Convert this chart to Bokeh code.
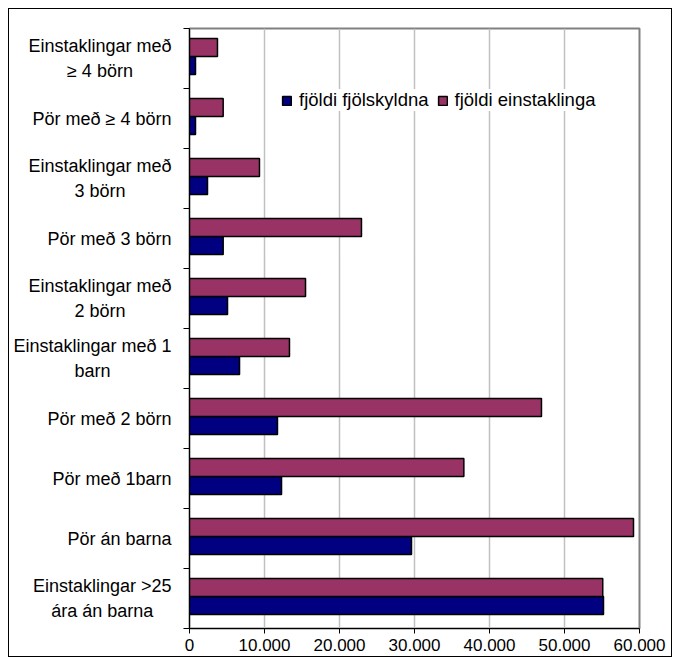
from bokeh.plotting import figure
from bokeh.layouts import row
from bokeh.models import FixedTicker, Legend, LegendItem, ColumnDataSource, Range1d, Label
from bokeh.embed import file_html
from bokeh.resources import INLINE

# Categories listed bottom to top
categories = [
    "Einstaklingar >25\nára án barna",
    "Pör án barna",
    "Pör með 1barn",
    "Pör með 2 börn",
    "Einstaklingar með 1\nbarn",
    "Einstaklingar með\n2 börn",
    "Pör með 3 börn",
    "Einstaklingar með\n3 börn",
    "Pör með ≥ 4 börn",
    "Einstaklingar með\n≥ 4 börn",
]
fjoldi_fjolskyldna = [55200, 29600, 12270, 11730, 6670, 5070, 4490, 2400, 800, 800]
fjoldi_einstaklinga = [55100, 59200, 36580, 46930, 13330, 15470, 22930, 9330, 4490, 3730]
x_ticks = [0, 10000, 20000, 30000, 40000, 50000, 60000]
x_tick_labels = ["0", "10.000", "20.000", "30.000", "40.000", "50.000", "60.000"]
series_names = ["fjöldi fjölskyldna", "fjöldi einstaklinga"]

FONT = "Liberation Sans"
BLUE = "#000080"
MAGENTA = "#993366"

n = len(categories)
centers = [i + 0.5 for i in range(n)]
bounds = [float(i) for i in range(n + 1)]
shift = 0.033
bar_h = 0.30

src = ColumnDataSource(dict(
    y_blue=[c + shift - bar_h / 2 for c in centers],
    y_mag=[c + shift + bar_h / 2 for c in centers],
    fam=fjoldi_fjolskyldna,
    ind=fjoldi_einstaklinga,
))

H = 647
TOP = 19
BOTTOM = 28
LEFT_W = 172
MAIN_W = 490

y_range = Range1d(0, n)

# ---- label panel (category names, lines centred within each block) ----
pl = figure(
    width=LEFT_W, height=H,
    x_range=Range1d(0, LEFT_W), y_range=y_range,
    output_backend="svg", toolbar_location=None,
    min_border_left=0, min_border_right=0, min_border_top=TOP, min_border_bottom=BOTTOM,
    background_fill_color="white", border_fill_color="white",
)
pl.axis.visible = False
pl.grid.visible = False
pl.outline_line_color = None
for c, text in zip(centers, categories):
    pl.add_layout(Label(
        x=LEFT_W - 10, y=c, text=text,
        anchor="center_right", text_align="center", text_baseline="middle",
        text_font=FONT, text_font_size="18px", text_color="black",
        text_line_height=1.25,
    ))

# ---- main chart ----
p = figure(
    width=MAIN_W, height=H,
    x_range=Range1d(0, 60000), y_range=y_range,
    output_backend="svg", toolbar_location=None,
    min_border_left=8, min_border_right=32, min_border_top=TOP, min_border_bottom=BOTTOM,
    background_fill_color="white", border_fill_color="white",
)

r_blue = p.hbar(y="y_blue", left=0, right="fam", height=bar_h, source=src,
                fill_color=BLUE, line_color="black", line_width=1.5)
r_mag = p.hbar(y="y_mag", left=0, right="ind", height=bar_h, source=src,
               fill_color=MAGENTA, line_color="black", line_width=1.5)

p.outline_line_color = "#808080"
p.outline_line_width = 2

p.xgrid.ticker = FixedTicker(ticks=x_ticks)
p.xgrid.grid_line_color = "#c0c0c0"
p.xgrid.grid_line_width = 1.5
p.ygrid.visible = False

xa = p.xaxis[0]
xa.ticker = FixedTicker(ticks=x_ticks)
xa.major_label_overrides = {t: l for t, l in zip(x_ticks, x_tick_labels)}
xa.major_tick_out = 5
xa.major_tick_in = 0
xa.minor_tick_line_color = None
xa.axis_line_color = "black"
xa.major_tick_line_color = "black"
xa.major_label_text_font = FONT
xa.major_label_text_font_size = "17px"
xa.major_label_text_color = "black"
xa.major_label_standoff = 5

ya = p.yaxis[0]
ya.ticker = FixedTicker(ticks=bounds)
ya.major_tick_line_color = "black"
ya.major_tick_out = 6
ya.major_tick_in = 0
ya.minor_tick_line_color = None
ya.axis_line_color = "black"
ya.major_label_overrides = {b: "" for b in bounds}
ya.major_label_standoff = 0

legend = Legend(
    items=[LegendItem(label=series_names[0], renderers=[r_blue]),
           LegendItem(label=series_names[1], renderers=[r_mag])],
    orientation="horizontal",
    location=(92, 517),
    label_text_font=FONT, label_text_font_size="18.5px", label_text_color="black",
    glyph_width=11, glyph_height=11, label_standoff=7, spacing=8,
    padding=3, margin=0,
    border_line_color=None, background_fill_color="white", background_fill_alpha=1.0,
)
p.add_layout(legend)

layout = row(pl, p, spacing=0, styles={"margin": "8px", "border": "1px solid black"})

open("out.html", "w").write(file_html(layout, INLINE))
